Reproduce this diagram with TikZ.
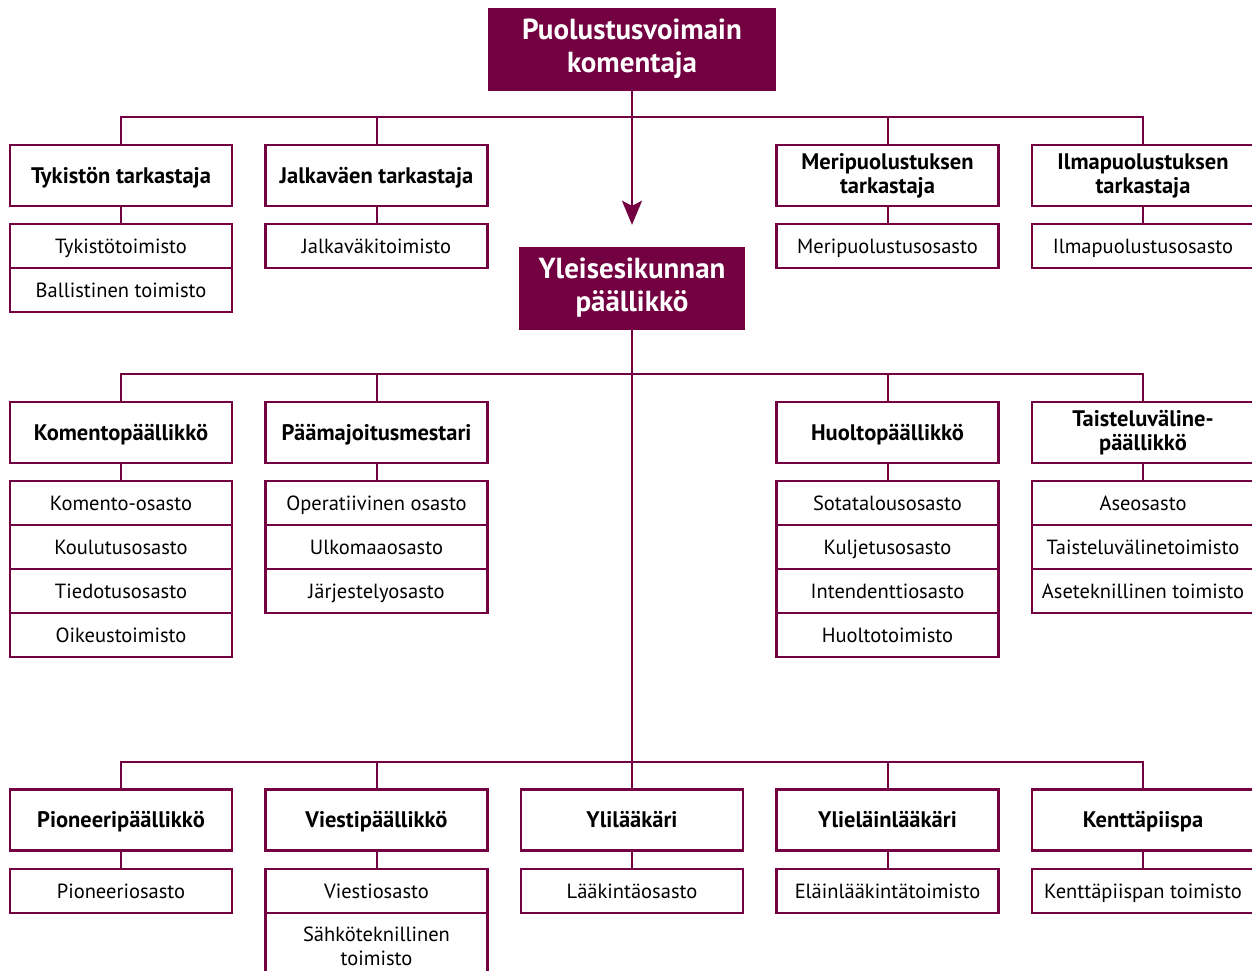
\documentclass[tikz,border=0pt]{standalone}
\usepackage{fontspec}
\setmainfont{PT Sans}
\usetikzlibrary{arrows.meta}
\definecolor{plum}{HTML}{730041}
\begin{document}
\begin{tikzpicture}
  \tikzset{
    chief/.style={
      rectangle,
      draw=plum,
      fill=plum,
      text=white,
      inner sep=0pt,
      font=\bfseries\fontsize{29}{33}\selectfont,
      align=center
    },
    head/.style={
      rectangle,
      draw=plum,
      fill=white,
      line width=2.4pt,
      minimum width=222pt,
      minimum height=61pt,
      inner sep=0pt,
      text height=20pt,
      text depth=5pt,
      font=\bfseries\fontsize{22.5}{24}\selectfont,
      align=center
    },
    unit/.style={
      rectangle,
      draw=plum,
      fill=white,
      line width=2.4pt,
      minimum width=222pt,
      minimum height=44pt,
      inner sep=0pt,
      text height=19pt,
      text depth=5pt,
      font=\fontsize{20.5}{24}\selectfont,
      align=center
    },
    twolines/.style={text height={}, text depth={}},
    link/.style={draw=plum, line width=2pt}
  }

  \useasboundingbox (0pt, 0pt) rectangle (1252pt, -971pt);

  % chiefs
  \node[chief, minimum width=287pt, minimum height=82pt] (pvk) at (632pt, -49pt) {Puolustusvoimain\\komentaja};
  \node[chief, minimum width=225pt, minimum height=82pt] (yek) at (632pt, -288pt) {Yleisesikunnan\\päällikkö};

  \coordinate (busA) at (632pt, -117pt);
  \coordinate (busB) at (632pt, -374pt);
  \coordinate (busC) at (632pt, -762pt);

  % first row
  \node[head] (tyk) at (121pt, -175.5pt) {Tykistön tarkastaja};
  \node[head] (jv) at (376.5pt, -175.5pt) {Jalkaväen tarkastaja};
  \node[head, twolines] (mp) at (887.5pt, -175.5pt) {Meripuolustuksen\\tarkastaja};
  \node[head, twolines] (ip) at (1143pt, -175.5pt) {Ilmapuolustuksen\\tarkastaja};

  \node[unit] (tyk1) at (121pt, -246pt) {Tykistötoimisto};
  \node[unit] (tyk2) at (121pt, -290pt) {Ballistinen toimisto};
  \node[unit] (jv1) at (376.5pt, -246pt) {Jalkaväkitoimisto};
  \node[unit] (mp1) at (887.5pt, -246pt) {Meripuolustusosasto};
  \node[unit] (ip1) at (1143pt, -246pt) {Ilmapuolustusosasto};

  % second row
  \node[head] (kom) at (121pt, -432.5pt) {Komentopäällikkö};
  \node[head] (pmm) at (376.5pt, -432.5pt) {Päämajoitusmestari};
  \node[head] (hlt) at (887.5pt, -432.5pt) {Huoltopäällikkö};
  \node[head, twolines] (tv) at (1143pt, -432.5pt) {Taisteluväline-\\päällikkö};

  \node[unit] (kom1) at (121pt, -503pt) {Komento-osasto};
  \node[unit] (kom2) at (121pt, -547pt) {Koulutusosasto};
  \node[unit] (kom3) at (121pt, -591pt) {Tiedotusosasto};
  \node[unit] (kom4) at (121pt, -635pt) {Oikeustoimisto};
  \node[unit] (pmm1) at (376.5pt, -503pt) {Operatiivinen osasto};
  \node[unit] (pmm2) at (376.5pt, -547pt) {Ulkomaaosasto};
  \node[unit] (pmm3) at (376.5pt, -591pt) {Järjestelyosasto};
  \node[unit] (hlt1) at (887.5pt, -503pt) {Sotatalousosasto};
  \node[unit] (hlt2) at (887.5pt, -547pt) {Kuljetusosasto};
  \node[unit] (hlt3) at (887.5pt, -591pt) {Intendenttiosasto};
  \node[unit] (hlt4) at (887.5pt, -635pt) {Huoltotoimisto};
  \node[unit] (tv1) at (1143pt, -503pt) {Aseosasto};
  \node[unit] (tv2) at (1143pt, -547pt) {Taisteluvälinetoimisto};
  \node[unit] (tv3) at (1143pt, -591pt) {Aseteknillinen toimisto};

  % third row
  \node[head] (pio) at (121pt, -820pt) {Pioneeripäällikkö};
  \node[head] (vie) at (376.5pt, -820pt) {Viestipäällikkö};
  \node[head] (yll) at (632pt, -820pt) {Ylilääkäri};
  \node[head] (yel) at (887.5pt, -820pt) {Ylieläinlääkäri};
  \node[head] (kp) at (1143pt, -820pt) {Kenttäpiispa};

  \node[unit] (pio1) at (121pt, -891pt) {Pioneeriosasto};
  \node[unit] (vie1) at (376.5pt, -891pt) {Viestiosasto};
  \node[unit, twolines, minimum height=66pt] (vie2) at (376.5pt, -946pt) {Sähköteknillinen\\toimisto};
  \node[unit] (yll1) at (632pt, -891pt) {Lääkintäosasto};
  \node[unit] (yel1) at (887.5pt, -891pt) {Eläinlääkintätoimisto};
  \node[unit] (kp1) at (1143pt, -891pt) {Kenttäpiispan toimisto};

  % connectors
  \draw[link, -{Stealth[width=20pt, length=24pt, inset=5pt]}, shorten >=22pt] (pvk.south) -- (yek.north);
  \draw[link] (yek.south) -- (yll.north);
  \foreach \n in {tyk, jv, mp, ip}
    \draw[link] (\n.north) |- (busA);
  \foreach \n in {kom, pmm, hlt, tv}
    \draw[link] (\n.north) |- (busB);
  \foreach \n in {pio, vie, yel, kp}
    \draw[link] (\n.north) |- (busC);
  \foreach \h/\u in {tyk/tyk1, jv/jv1, mp/mp1, ip/ip1, kom/kom1, pmm/pmm1, hlt/hlt1, tv/tv1,
                    pio/pio1, vie/vie1, yll/yll1, yel/yel1, kp/kp1}
    \draw[link] (\h.south) -- (\u.north);
\end{tikzpicture}
\end{document}
